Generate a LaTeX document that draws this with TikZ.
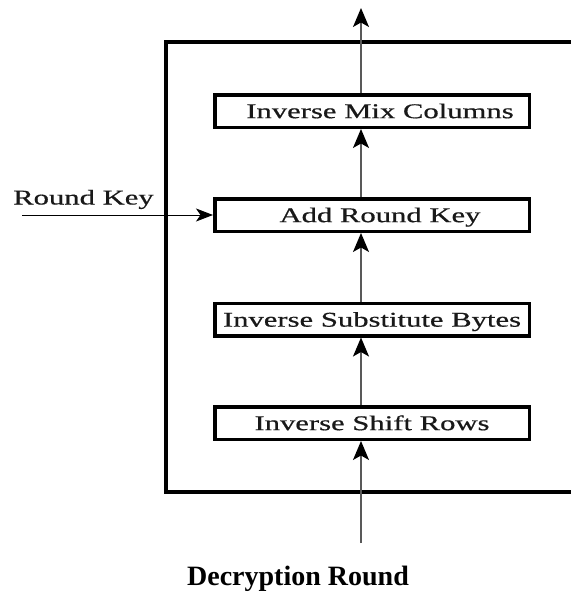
\documentclass[tikz,border=0pt]{standalone}
\usepackage{fontspec}
\usepackage{graphicx}
\setmainfont{Liberation Serif}
\newfontfamily\stagefont{Liberation Serif}[FakeBold=0.5]
\usetikzlibrary{arrows.meta}
\newcommand{\widetext}[1]{\scalebox{1.46}[1]{#1}}
\tikzset{
  x=1pt, y=-1pt,
  stage/.style={draw=black, line width=3.5pt, fill=white, minimum width=314.5pt,
    minimum height=32.5pt, inner sep=0pt, text height=14.3pt, text depth=0pt,
    font=\stagefont\fontsize{21}{21}\selectfont, text=black!90},
  flow/.style={draw=black!65, line width=1.3pt,
    -{Stealth[length=19pt, width=16pt, inset=4.5pt, color=black]}},
  keyflow/.style={draw=black, line width=0.9pt,
    -{Stealth[length=17pt, width=13pt, inset=4.5pt, color=black]}},
  frame/.style={draw=black, line width=4pt}
}
\begin{document}
\begin{tikzpicture}
\useasboundingbox (0,0) rectangle (570,594);
% outer frame (right side lies outside the picture)
\draw[frame] (572,42) -- (166,42) -- (166,492) -- (572,492);
% stages
\node[stage] (imc) at (372,111) {\hspace*{16pt}\widetext{Inverse Mix Columns}};
\node[stage] (ark) at (372,215) {\hspace*{16pt}\widetext{Add Round Key}};
\node[stage] (isb) at (372,319.5) {\widetext{Inverse Substitute Bytes}};
\node[stage] (isr) at (372,423) {\widetext{Inverse Shift Rows}};
% free ends
\coordinate (in) at (361,543);
\coordinate (out) at (361,8);
\coordinate (rk) at (22,215);
% label
\node[anchor=base west, inner sep=0pt, font=\stagefont\fontsize{21}{21}\selectfont, text=black!90]
  (rklabel) at (13,204.5) {\widetext{Round Key}};
% connectors
\draw[flow] (in) -- (isr.south -| in);
\draw[flow] (isr.north -| in) -- (isb.south -| in);
\draw[flow] (isb.north -| in) -- (ark.south -| in);
\draw[flow] (ark.north -| in) -- (imc.south -| in);
\draw[flow] (imc.north -| in) -- (out);
\draw[keyflow] (rk) -- (ark.west);
% title
\node[anchor=base, inner sep=0pt, font=\fontsize{28}{28}\selectfont\bfseries]
  (title) at (298,585) {Decryption Round};
\end{tikzpicture}
\end{document}
